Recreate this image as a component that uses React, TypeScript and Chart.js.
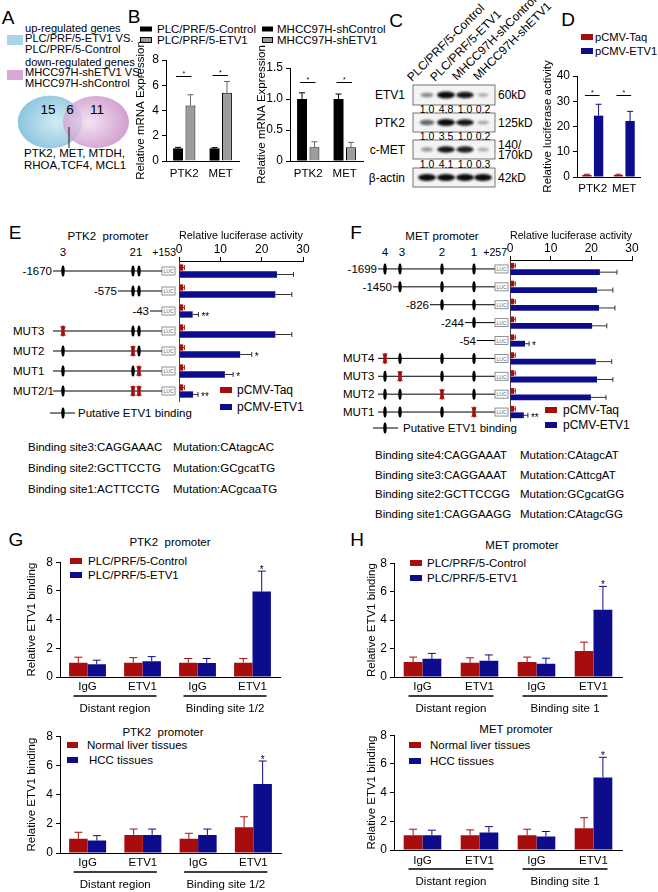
import React, { useEffect, useRef } from "react";
import { Chart, registerables } from "chart.js";

Chart.register(...registerables);
const FONT = "'Liberation Sans', Arial, Helvetica, sans-serif";
Chart.defaults.font.family = FONT;
Chart.defaults.color = "#000";

const RED = "#a80d0d";
const BLUE = "#0c0c8c";
const GRAY = "#9c9c9c";
const FS = 11.5; // base text size
const TICK_FS = 12;

// ================= DATA =================
// A (Venn)
const vennLegendUp = ["up-regulated genes", "PLC/PRF/5-ETV1 VS.", "PLC/PRF/5-Control"];
const vennLegendDown = ["down-regulated genes", "MHCC97H-shETV1 VS.", "MHCC97H-shControl"];
const vennCounts = [15, 6, 11];
const vennShared = ["PTK2, MET, MTDH,", "RHOA,TCF4, MCL1"];

// B
const bGenes = ["PTK2", "MET"];
const bPlcControl = [1.0, 1.0];
const bPlcControlErr = [0.08, 0.06];
const bPlcEtv1 = [4.4, 5.4];
const bPlcEtv1Err = [0.85, 0.9];
const bPlcSig = [6.75, 6.85];
const bMhccControl = [1.0, 1.0];
const bMhccControlErr = [0.1, 0.08];
const bMhccShEtv1 = [0.22, 0.22];
const bMhccShEtv1Err = [0.09, 0.08];
const bMhccSig = [1.27, 1.27];

// C (western blot)
const blotLanes = ["PLC/PRF/5-Control", "PLC/PRF/5-ETV1", "MHCC97H-shControl", "MHCC97H-shETV1"];
const blotProteins = ["ETV1", "PTK2", "c-MET", "β-actin"];
const etv1Quant = ["1.0", "4.8", "1.0", "0.2"];
const ptk2Quant = ["1.0", "3.5", "1.0", "0.2"];
const cmetQuant = ["1.0", "4.1", "1.0", "0.3"];
const etv1Band = [0.35, 1, 0.95, 0.15];
const ptk2Band = [0.55, 1, 0.95, 0.2];
const cmetBand = [0.3, 0.95, 0.9, 0.18];
const actinBand = [1, 1, 1, 1];

// D
const dGenes = ["PTK2", "MET"];
const dTaq = [0.8, 0.8];
const dTaqErr = [0.3, 0.3];
const dEtv1 = [24.3, 22.2];
const dEtv1Err = [4.5, 3.8];
const dSig = [32.5, 32.5];

// E
const eConstructs = ["-1670", "-575", "-43", "MUT3", "MUT2", "MUT1", "MUT2/1"];
const eTaq = [1.0, 1.0, 1.0, 1.0, 1.0, 1.0, 1.0];
const eTaqErr = [0.3, 0.3, 0.3, 0.3, 0.3, 0.3, 0.3];
const eEtv1 = [23.7, 23.3, 3.3, 23.3, 14.8, 11.1, 3.4];
const eEtv1Err = [4.0, 4.0, 1.4, 4.0, 2.8, 2.0, 1.2];
const eStars = ["", "", "**", "", "*", "*", "**"];
const eSeqSites = ["Binding site3:CAGGAAAC", "Binding site2:GCTTCCTG", "Binding site1:ACTTCCTG"];
const eSeqMuts = ["Mutation:CAtagcAC", "Mutation:GCgcatTG", "Mutation:ACgcaaTG"];

// F
const fConstructs = ["-1699", "-1450", "-826", "-244", "-54", "MUT4", "MUT3", "MUT2", "MUT1"];
const fTaq = [1.0, 1.0, 1.0, 1.0, 1.0, 1.0, 1.0, 1.0, 1.0];
const fTaqErr = [0.3, 0.3, 0.3, 0.3, 0.3, 0.3, 0.3, 0.3, 0.3];
const fEtv1 = [22.1, 21.4, 21.9, 20.2, 3.7, 21.1, 21.4, 19.9, 3.4];
const fEtv1Err = [4.2, 3.9, 3.9, 3.6, 1.0, 3.9, 3.9, 3.7, 1.0];
const fStars = ["", "", "", "", "*", "", "", "", "**"];
const fSeqSites = ["Binding site4:CAGGAAAT", "Binding site3:CAGGAAAT", "Binding site2:GCTTCCGG", "Binding site1:CAGGAAGG"];
const fSeqMuts = ["Mutation:CAtagcAT", "Mutation:CAttcgAT", "Mutation:GCgcatGG", "Mutation:CAtagcGG"];

// G / H (ChIP)
const chipCats = ["IgG", "ETV1", "IgG", "ETV1"];
const chipStars = ["", "", "", "*"];
const ptk2Groups = ["Distant region", "Binding site 1/2"];
const metGroups = ["Distant region", "Binding site 1"];

const gTopControl = [1.0, 1.0, 1.0, 1.0];
const gTopControlErr = [0.38, 0.35, 0.29, 0.29];
const gTopEtv1 = [0.88, 1.1, 0.98, 5.96];
const gTopEtv1Err = [0.29, 0.32, 0.31, 1.42];

const gBotNormal = [0.97, 1.24, 0.97, 1.76];
const gBotNormalErr = [0.45, 0.4, 0.38, 0.72];
const gBotHcc = [0.86, 1.24, 1.24, 4.73];
const gBotHccErr = [0.33, 0.4, 0.4, 1.57];

const hTopControl = [1.05, 1.0, 1.05, 1.83];
const hTopControlErr = [0.35, 0.35, 0.35, 0.62];
const hTopEtv1 = [1.28, 1.15, 0.93, 4.72];
const hTopEtv1Err = [0.38, 0.4, 0.39, 1.65];

const hBotNormal = [1.03, 1.03, 1.03, 1.52];
const hBotNormalErr = [0.42, 0.37, 0.42, 0.73];
const hBotHcc = [1.03, 1.22, 0.94, 5.06];
const hBotHccErr = [0.35, 0.41, 0.35, 1.4];

// ================= CHART MACHINERY =================
type SetSpec = { label: string; data: number[]; err: number[]; color: string; errColor: string; border?: string; stars?: string[] };
type Spec = {
  horizontal?: boolean; labels: string[]; sets: SetSpec[];
  max: number; step: number; title: string; fmt?: (v: number) => string;
  area: number[]; axisW: number; axisH: number; padTop?: number; padRight: number; padBottom?: number;
  catPct: number; barPct: number; sig?: number[]; groups?: string[];
  catPad?: number; cap?: number;
};

const errorPlugin = (s: Spec) => ({
  id: "errbars",
  afterDatasetsDraw(chart: any) {
    const ctx = chart.ctx;
    const horiz = !!s.horizontal;
    const vs = horiz ? chart.scales.x : chart.scales.y;
    const cap = s.cap ?? 3.5;
    chart.data.datasets.forEach((ds: any, di: number) => {
      const meta = chart.getDatasetMeta(di);
      meta.data.forEach((el: any, i: number) => {
        const v = ds.data[i];
        const e = ds.err ? ds.err[i] : 0;
        const end = vs.getPixelForValue(v + e);
        ctx.save();
        ctx.strokeStyle = ds.errColor;
        ctx.lineWidth = 1;
        ctx.beginPath();
        if (horiz) {
          ctx.moveTo(el.x, el.y); ctx.lineTo(end, el.y);
          ctx.moveTo(end, el.y - cap); ctx.lineTo(end, el.y + cap);
        } else {
          ctx.moveTo(el.x, el.y); ctx.lineTo(el.x, end);
          ctx.moveTo(el.x - cap, end); ctx.lineTo(el.x + cap, end);
        }
        ctx.stroke();
        const star = ds.stars ? ds.stars[i] : "";
        if (star) {
          ctx.fillStyle = "#000";
          ctx.font = `10px ${FONT}`;
          if (horiz) {
            ctx.textAlign = "left"; ctx.textBaseline = "middle";
            ctx.fillText(star, end + 3, el.y + 2.5);
          } else {
            ctx.textAlign = "center"; ctx.textBaseline = "alphabetic";
            ctx.fillText(star, el.x, end + 2);
          }
        }
        ctx.restore();
      });
    });
  },
});

const sigPlugin = (s: Spec) => ({
  id: "sig",
  afterDatasetsDraw(chart: any) {
    if (!s.sig) return;
    const ctx = chart.ctx;
    const ys = chart.scales.y;
    const m0 = chart.getDatasetMeta(0);
    const m1 = chart.getDatasetMeta(1);
    ctx.save();
    ctx.strokeStyle = "#000"; ctx.lineWidth = 1; ctx.fillStyle = "#000";
    ctx.font = `7px ${FONT}`; ctx.textAlign = "center"; ctx.textBaseline = "alphabetic";
    s.sig.forEach((lvl, i) => {
      const y = Math.round(ys.getPixelForValue(lvl)) + 0.5;
      const x0 = m0.data[i].x - 2;
      const x1 = m1.data[i].x + 1;
      ctx.beginPath(); ctx.moveTo(x0, y); ctx.lineTo(x1, y); ctx.stroke();
      ctx.fillText("*", (x0 + x1) / 2, y - 1);
    });
    ctx.restore();
  },
});

const groupPlugin = (s: Spec) => ({
  id: "groups",
  afterDraw(chart: any) {
    if (!s.groups) return;
    const ctx = chart.ctx;
    const xs = chart.scales.x;
    const b = chart.chartArea.bottom;
    ctx.save();
    ctx.strokeStyle = "#000"; ctx.lineWidth = 1.5; ctx.fillStyle = "#000";
    ctx.font = `${FS}px ${FONT}`; ctx.textAlign = "center"; ctx.textBaseline = "middle";
    s.groups.forEach((text, gi) => {
      const x1 = xs.getPixelForTick(gi * 2) - 14;
      const x2 = xs.getPixelForTick(gi * 2 + 1) + 14;
      const y = b + 19;
      ctx.beginPath(); ctx.moveTo(x1, y); ctx.lineTo(x2, y); ctx.stroke();
      ctx.fillText(text, (x1 + x2) / 2, y + 13);
    });
    ctx.restore();
  },
});

function geom(s: Spec) {
  const [l, t, r, b] = s.area;
  if (s.horizontal) {
    return { x: l - s.axisW, y: t - s.axisH, w: s.axisW + (r - l) + s.padRight, h: s.axisH + (b - t) + (s.padBottom ?? 4) };
  }
  const pt = s.padTop ?? 8;
  return { x: l - s.axisW, y: t - pt, w: s.axisW + (r - l) + s.padRight, h: pt + (b - t) + s.axisH };
}

function buildConfig(s: Spec): any {
  const horiz = !!s.horizontal;
  const valScale = {
    type: "linear", min: 0, max: s.max, position: horiz ? "top" : "left",
    ticks: {
      stepSize: s.step, color: "#000", font: { size: TICK_FS }, padding: horiz ? 0 : 3,
      callback: (v: any) => (s.fmt ? s.fmt(Number(v)) : String(v)),
    },
    grid: { display: true, drawOnChartArea: false, drawTicks: true, tickLength: 4, color: "#000", lineWidth: 1 },
    border: { display: true, color: "#000", width: 1 },
    title: { display: true, text: s.title, color: "#000", font: { size: FS }, padding: 0 },
    afterFit: (sc: any) => { if (horiz) sc.height = s.axisH; else sc.width = s.axisW; },
  };
  const catScale = {
    type: "category", offset: true, position: horiz ? "left" : "bottom",
    grid: { display: false, drawTicks: false },
    border: { display: true, color: horiz ? "#444" : "#000", width: 1 },
    ticks: { display: !horiz, color: "#000", font: { size: FS }, padding: s.catPad ?? 3, maxRotation: 0, minRotation: 0, autoSkip: false },
    afterFit: (sc: any) => { if (horiz) sc.width = 0; else sc.height = s.axisH; },
  };
  return {
    type: "bar",
    data: {
      labels: s.labels,
      datasets: s.sets.map((d) => ({
        label: d.label, data: d.data, err: d.err, errColor: d.errColor, stars: d.stars,
        backgroundColor: d.color, borderColor: d.border || d.color, borderWidth: d.border ? 1 : 0,
        categoryPercentage: s.catPct, barPercentage: s.barPct,
      })),
    },
    options: {
      responsive: false, animation: false, devicePixelRatio: 1, indexAxis: horiz ? "y" : "x",
      events: [],
      layout: {
        padding: horiz
          ? { left: s.axisW, right: s.padRight, top: 0, bottom: s.padBottom ?? 4 }
          : { left: 0, right: s.padRight, top: s.padTop ?? 8, bottom: 0 },
      },
      plugins: { legend: { display: false }, tooltip: { enabled: false }, title: { display: false } },
      scales: horiz ? { x: valScale, y: catScale } : { x: catScale, y: valScale },
    },
    plugins: [errorPlugin(s), sigPlugin(s), groupPlugin(s)],
  };
}

function BarChart({ spec }: { spec: Spec }) {
  const ref = useRef<HTMLCanvasElement | null>(null);
  const g = geom(spec);
  useEffect(() => {
    if (!ref.current) return;
    const c = new Chart(ref.current, buildConfig(spec));
    return () => c.destroy();
  }, [spec]);
  return <canvas ref={ref} width={g.w} height={g.h} style={{ position: "absolute", left: g.x, top: g.y, width: g.w, height: g.h }} />;
}

// ================= LAYOUT =================
const E_AREA = [179, 261, 303, 401];
const F_AREA = [510, 260, 632, 421];
const fmtHalf = (v: number) => (v === 0 ? "0" : v.toFixed(1));

const SPECS: Spec[] = [
  {
    labels: bGenes,
    sets: [
      { label: "PLC/PRF/5-Control", data: bPlcControl, err: bPlcControlErr, color: "#000", errColor: "#000" },
      { label: "PLC/PRF/5-ETV1", data: bPlcEtv1, err: bPlcEtv1Err, color: GRAY, border: "#000", errColor: "#666" },
    ],
    max: 8, step: 2, title: "Relative mRNA Expression",
    area: [166, 60, 239, 161], axisW: 32, axisH: 26, padTop: 26, padRight: 4,
    catPct: 0.68, barPct: 0.8, sig: bPlcSig, catPad: 6, cap: 3,
  },
  {
    labels: bGenes,
    sets: [
      { label: "MHCC97H-shControl", data: bMhccControl, err: bMhccControlErr, color: "#000", errColor: "#000" },
      { label: "MHCC97H-shETV1", data: bMhccShEtv1, err: bMhccShEtv1Err, color: GRAY, border: "#000", errColor: "#666" },
    ],
    max: 1.5, step: 0.5, title: "Relative mRNA Expression", fmt: fmtHalf,
    area: [290, 68, 363, 161], axisW: 35, axisH: 26, padTop: 36, padRight: 4,
    catPct: 0.68, barPct: 0.8, sig: bMhccSig, catPad: 6, cap: 3,
  },
  {
    labels: dGenes,
    sets: [
      { label: "pCMV-Taq", data: dTaq, err: dTaqErr, color: RED, errColor: RED },
      { label: "pCMV-ETV1", data: dEtv1, err: dEtv1Err, color: BLUE, errColor: BLUE },
    ],
    max: 40, step: 10, title: "Relative luciferase activity",
    area: [577, 76, 640, 177], axisW: 36, axisH: 24, padTop: 20, padRight: 8,
    catPct: 0.74, barPct: 0.8, sig: dSig, catPad: 5, cap: 3,
  },
  {
    horizontal: true, labels: eConstructs,
    sets: [
      { label: "pCMV-Taq", data: eTaq, err: eTaqErr, color: RED, errColor: RED },
      { label: "pCMV-ETV1", data: eEtv1, err: eEtv1Err, color: BLUE, errColor: "#333", stars: eStars },
    ],
    max: 30, step: 10, title: "Relative luciferase activity",
    area: E_AREA, axisW: 10, axisH: 32, padRight: 16, padBottom: 4,
    catPct: 0.7, barPct: 0.9, cap: 2.5,
  },
  {
    horizontal: true, labels: fConstructs,
    sets: [
      { label: "pCMV-Taq", data: fTaq, err: fTaqErr, color: RED, errColor: RED },
      { label: "pCMV-ETV1", data: fEtv1, err: fEtv1Err, color: BLUE, errColor: "#333", stars: fStars },
    ],
    max: 30, step: 10, title: "Relative luciferase activity",
    area: F_AREA, axisW: 10, axisH: 31, padRight: 16, padBottom: 4,
    catPct: 0.72, barPct: 0.9, cap: 2.5,
  },
  {
    labels: chipCats,
    sets: [
      { label: "PLC/PRF/5-Control", data: gTopControl, err: gTopControlErr, color: RED, errColor: RED },
      { label: "PLC/PRF/5-ETV1", data: gTopEtv1, err: gTopEtv1Err, color: BLUE, errColor: BLUE, stars: chipStars },
    ],
    max: 8, step: 2, title: "Relative ETV1 binding",
    area: [60, 560, 280, 677], axisW: 35, axisH: 40, padTop: 8, padRight: 6,
    catPct: 0.67, barPct: 1, catPad: 3, groups: ptk2Groups, cap: 4,
  },
  {
    labels: chipCats,
    sets: [
      { label: "Normal liver tissues", data: gBotNormal, err: gBotNormalErr, color: RED, errColor: RED },
      { label: "HCC tissues", data: gBotHcc, err: gBotHccErr, color: BLUE, errColor: BLUE, stars: chipStars },
    ],
    max: 8, step: 2, title: "Relative ETV1 binding",
    area: [60, 734, 281, 853], axisW: 35, axisH: 39, padTop: 8, padRight: 6,
    catPct: 0.67, barPct: 1, catPad: 3, groups: ptk2Groups, cap: 4,
  },
  {
    labels: chipCats,
    sets: [
      { label: "PLC/PRF/5-Control", data: hTopControl, err: hTopControlErr, color: RED, errColor: RED },
      { label: "PLC/PRF/5-ETV1", data: hTopEtv1, err: hTopEtv1Err, color: BLUE, errColor: BLUE, stars: chipStars },
    ],
    max: 8, step: 2, title: "Relative ETV1 binding",
    area: [394, 561, 622, 677], axisW: 29, axisH: 40, padTop: 8, padRight: 6,
    catPct: 0.66, barPct: 1, catPad: 3, groups: metGroups, cap: 4,
  },
  {
    labels: chipCats,
    sets: [
      { label: "Normal liver tissues", data: hBotNormal, err: hBotNormalErr, color: RED, errColor: RED },
      { label: "HCC tissues", data: hBotHcc, err: hBotHccErr, color: BLUE, errColor: BLUE, stars: chipStars },
    ],
    max: 8, step: 2, title: "Relative ETV1 binding",
    area: [394, 733, 622, 850], axisW: 29, axisH: 40, padTop: 8, padRight: 6,
    catPct: 0.66, barPct: 1, catPad: 4, groups: metGroups, cap: 4,
  },
];

// ================= SVG (non-chart schematic parts) =================
function T({ x, y, s = FS, a = "start", c = "#000", children }: any) {
  return (
    <text x={x} y={y} fontSize={s} textAnchor={a} dominantBaseline="central" fill={c} style={{ whiteSpace: "pre" }}>
      {children}
    </text>
  );
}

function Marker({ x, y, mut }: { x: number; y: number; mut?: boolean }) {
  return (
    <g>
      <ellipse cx={x} cy={y} rx={1.7} ry={5.5} fill={mut ? RED : "#000"} />
      {mut && (
        <path d={`M${x - 2.2} ${y - 5} L${x + 2.2} ${y + 5} M${x + 2.2} ${y - 5} L${x - 2.2} ${y + 5}`} stroke={RED} strokeWidth={1.1} />
      )}
    </g>
  );
}

function Luc({ x, y }: { x: number; y: number }) {
  return (
    <g>
      <rect x={x} y={y - 4} width={13} height={8} fill="#fff" stroke="#777" strokeWidth={0.8} />
      <text x={x + 6.5} y={y + 0.3} fontSize={5} textAnchor="middle" dominantBaseline="central" fill="#666">LUC</text>
    </g>
  );
}

function PromoterRows({ names, area, lineStart, rowSites, rowMut, siteX, lucX, mutLabelX }: any) {
  const rowH = (area[3] - area[1]) / names.length;
  return (
    <g>
      {names.map((n: string, i: number) => {
        const y = area[1] + rowH * (i + 0.5);
        const isMut = n.startsWith("MUT");
        return (
          <g key={i}>
            <line x1={lineStart[i]} x2={lucX} y1={y} y2={y} stroke="#000" strokeWidth={1} />
            {rowSites[i].map((si: number) => (
              <Marker key={si} x={siteX[si]} y={y} mut={rowMut[i].includes(si)} />
            ))}
            <Luc x={lucX} y={y} />
            <T x={isMut ? mutLabelX : lineStart[i] - 1} y={y} a={isMut ? "start" : "end"}>{n}</T>
          </g>
        );
      })}
    </g>
  );
}

const E_LINE_START = [53, 118, 150, 53, 53, 53, 53];
const E_ROW_SITES = [[0, 1, 2], [1, 2], [], [0, 1, 2], [0, 1, 2], [0, 1, 2], [0, 1, 2]];
const E_ROW_MUT = [[], [], [], [0], [1], [2], [1, 2]];
const E_SITE_X = [63, 133, 139];
const F_LINE_START = [378, 393, 430, 465, 477, 378, 378, 378, 378];
const F_ROW_SITES = [[0, 1, 2, 3], [1, 2, 3], [2, 3], [3], [], [0, 1, 2, 3], [0, 1, 2, 3], [0, 1, 2, 3], [0, 1, 2, 3]];
const F_ROW_MUT = [[], [], [], [], [], [0], [1], [2], [3]];
const F_SITE_X = [385, 400, 442, 474];

const LANE_X = [427, 446, 465, 483];
const BLOT_ROWS = [[85, 105], [113, 132], [140, 159], [168, 187]];
const BLOT_BANDS = [etv1Band, ptk2Band, cmetBand, actinBand];
const BLOT_QUANT = [etv1Quant, ptk2Quant, cmetQuant];
const QUANT_Y = [108.5, 136, 164];
const LANE_LABEL_POS = [[412, 82], [435, 82], [457, 81], [478, 81]];

function Overlay() {
  return (
    <svg width={658} height={892} style={{ position: "absolute", left: 0, top: 0, fontFamily: FONT }}>
      <defs>
        <radialGradient id="vb" cx="0.6" cy="0.5" r="0.6">
          <stop offset="0" stopColor="#d3ebf5" />
          <stop offset="1" stopColor="#8bc5df" />
        </radialGradient>
        <radialGradient id="vp" cx="0.4" cy="0.5" r="0.6">
          <stop offset="0" stopColor="#f1dbf0" />
          <stop offset="1" stopColor="#c587c2" />
        </radialGradient>
        <filter id="blur" x="-50%" y="-100%" width="200%" height="300%">
          <feGaussianBlur stdDeviation="0.9" />
        </filter>
      </defs>

      {/* panel letters */}
      <T x={8} y={17} s={19} a="middle">A</T>
      <T x={134} y={16} s={19} a="middle">B</T>
      <T x={396} y={20} s={19} a="middle">C</T>
      <T x={568} y={19} s={19} a="middle">D</T>
      <T x={15} y={232} s={19} a="middle">E</T>
      <T x={356} y={232} s={19} a="middle">F</T>
      <T x={16} y={539} s={19} a="middle">G</T>
      <T x={357} y={539} s={19} a="middle">H</T>

      {/* A */}
      <rect x={7} y={35} width={16} height={10} fill="#a9d4e7" />
      <rect x={7} y={70} width={16} height={10} fill="#d8a9d6" />
      {vennLegendUp.map((t, i) => <T key={"u" + i} x={25} y={27.5 + i * 10.9} s={11.1}>{t}</T>)}
      {vennLegendDown.map((t, i) => <T key={"d" + i} x={25} y={61.5 + i * 10.6} s={11.1}>{t}</T>)}
      <ellipse cx={50} cy={122} rx={32} ry={26} fill="url(#vb)" stroke="#8cc3dc" strokeWidth={0.6} />
      <ellipse cx={96} cy={122} rx={33} ry={26} fill="url(#vp)" opacity={0.8} />
      <T x={48} y={109} s={13.5} a="middle">{vennCounts[0]}</T>
      <T x={70} y={109} s={13.5} a="middle">{vennCounts[1]}</T>
      <T x={97} y={109} s={13.5} a="middle">{vennCounts[2]}</T>
      <line x1={69} x2={69} y1={127} y2={148} stroke="#000" strokeWidth={0.9} />
      <T x={24} y={153}>{vennShared[0]}</T>
      <T x={24} y={165}>{vennShared[1]}</T>

      {/* B legends */}
      <rect x={140} y={26.5} width={12} height={5} fill="#000" />
      <rect x={140.5} y={37.5} width={11} height={5} fill={GRAY} stroke="#000" strokeWidth={1} />
      <T x={157} y={29}>{SPECS[0].sets[0].label}</T>
      <T x={157} y={40}>{SPECS[0].sets[1].label}</T>
      <rect x={262} y={26.5} width={11} height={5} fill="#000" />
      <rect x={262.5} y={37.5} width={10} height={5} fill={GRAY} stroke="#000" strokeWidth={1} />
      <T x={277} y={29}>{SPECS[1].sets[0].label}</T>
      <T x={277} y={40}>{SPECS[1].sets[1].label}</T>

      {/* C blot */}
      {blotLanes.map((n, i) => (
        <text key={n} transform={`translate(${LANE_LABEL_POS[i][0]},${LANE_LABEL_POS[i][1]}) rotate(-45)`} fontSize={12}>{n}</text>
      ))}
      {BLOT_ROWS.map(([t, b], ri) => (
        <g key={ri}>
          <rect x={413} y={t} width={82} height={b - t} fill="#f4f4f4" stroke="#666" strokeWidth={0.9} />
          {BLOT_BANDS[ri].map((v, li) => (
            <ellipse key={li} cx={LANE_X[li]} cy={(t + b) / 2} rx={5 + 4 * v} ry={1.8 + 1.6 * v} fill="#111" opacity={0.15 + 0.85 * v} filter="url(#blur)" />
          ))}
          <T x={405} y={(t + b) / 2} s={12} a="end">{blotProteins[ri]}</T>
        </g>
      ))}
      {BLOT_QUANT.map((q, ri) => q.map((v, li) => (
        <T key={ri + "-" + li} x={LANE_X[li]} y={QUANT_Y[ri]} s={10.5} a="middle">{v}</T>
      )))}
      <T x={498} y={95} s={12}>60kD</T>
      <T x={498} y={123} s={12}>125kD</T>
      <T x={498} y={145} s={12}>140/</T>
      <T x={498} y={155} s={12}>170kD</T>
      <T x={498} y={178} s={12}>42kD</T>

      {/* D legend */}
      <rect x={581} y={34} width={12} height={6} fill={RED} />
      <rect x={581} y={48} width={12} height={6} fill={BLUE} />
      <T x={595} y={37} s={11.2}>{SPECS[2].sets[0].label}</T>
      <T x={595} y={51} s={11.2}>{SPECS[2].sets[1].label}</T>

      {/* E */}
      <T x={108} y={236} a="middle">PTK2  promoter</T>
      <T x={63} y={252} a="middle">3</T>
      <T x={136} y={252} a="middle">21</T>
      <T x={176} y={252} s={10.5} a="end">+153</T>
      <PromoterRows names={eConstructs} area={E_AREA} lineStart={E_LINE_START} rowSites={E_ROW_SITES} rowMut={E_ROW_MUT} siteX={E_SITE_X} lucX={162} mutLabelX={13} />
      <rect x={220} y={387} width={12} height={6} fill={RED} />
      <rect x={220} y={404} width={12} height={6} fill={BLUE} />
      <T x={237} y={390} s={12}>pCMV-Taq</T>
      <T x={237} y={407} s={12}>pCMV-ETV1</T>
      <line x1={50} x2={75} y1={413} y2={413} stroke="#000" />
      <Marker x={63} y={413} />
      <T x={78} y={413}>Putative ETV1 binding</T>
      {eSeqSites.map((t, i) => <T key={t} x={28} y={447 + i * 21}>{t}</T>)}
      {eSeqMuts.map((t, i) => <T key={t} x={173} y={447 + i * 21}>{t}</T>)}

      {/* F */}
      <T x={442} y={236} a="middle">MET promoter</T>
      <T x={385} y={252} a="middle">4</T>
      <T x={402} y={252} a="middle">3</T>
      <T x={442} y={252} a="middle">2</T>
      <T x={474} y={252} a="middle">1</T>
      <T x={507} y={252} s={10.5} a="end">+257</T>
      <PromoterRows names={fConstructs} area={F_AREA} lineStart={F_LINE_START} rowSites={F_ROW_SITES} rowMut={F_ROW_MUT} siteX={F_SITE_X} lucX={495} mutLabelX={343} />
      <rect x={545} y={407} width={12} height={6} fill={RED} />
      <rect x={545} y={422} width={12} height={6} fill={BLUE} />
      <T x={563} y={410} s={12}>pCMV-Taq</T>
      <T x={563} y={425} s={12}>pCMV-ETV1</T>
      <line x1={373} x2={398} y1={428} y2={428} stroke="#000" />
      <Marker x={385} y={428} />
      <T x={403} y={428}>Putative ETV1 binding</T>
      {fSeqSites.map((t, i) => <T key={t + i} x={375} y={455 + i * 19.7}>{t}</T>)}
      {fSeqMuts.map((t, i) => <T key={t + i} x={520} y={455 + i * 19.7}>{t}</T>)}

      {/* G */}
      <T x={170} y={542} a="middle">PTK2  promoter</T>
      <rect x={70} y={558} width={12} height={6} fill={RED} />
      <rect x={70} y={572} width={12} height={6} fill={BLUE} />
      <T x={88} y={561}>{SPECS[5].sets[0].label}</T>
      <T x={88} y={575}>{SPECS[5].sets[1].label}</T>
      <T x={163} y={732} a="middle">PTK2  promoter</T>
      <rect x={67} y={742} width={11} height={6} fill={RED} />
      <rect x={67} y={757} width={11} height={6} fill={BLUE} />
      <T x={87} y={745}>{SPECS[6].sets[0].label}</T>
      <T x={89} y={760}>{SPECS[6].sets[1].label}</T>

      {/* H */}
      <T x={522} y={545} a="middle">MET promoter</T>
      <rect x={410} y={560} width={12} height={6} fill={RED} />
      <rect x={410} y={575} width={12} height={6} fill={BLUE} />
      <T x={427} y={563}>{SPECS[7].sets[0].label}</T>
      <T x={427} y={578}>{SPECS[7].sets[1].label}</T>
      <T x={516} y={729} a="middle">MET promoter</T>
      <rect x={409} y={742} width={12} height={6} fill={RED} />
      <rect x={409} y={758} width={12} height={6} fill={BLUE} />
      <T x={430} y={745}>{SPECS[8].sets[0].label}</T>
      <T x={430} y={761}>{SPECS[8].sets[1].label}</T>
    </svg>
  );
}

export default function App() {
  return (
    <div style={{ position: "absolute", left: 0, top: 0, width: 658, height: 892, background: "#fff", overflow: "hidden", fontFamily: FONT }}>
      <Overlay />
      {SPECS.map((s, i) => <BarChart key={i} spec={s} />)}
    </div>
  );
}
